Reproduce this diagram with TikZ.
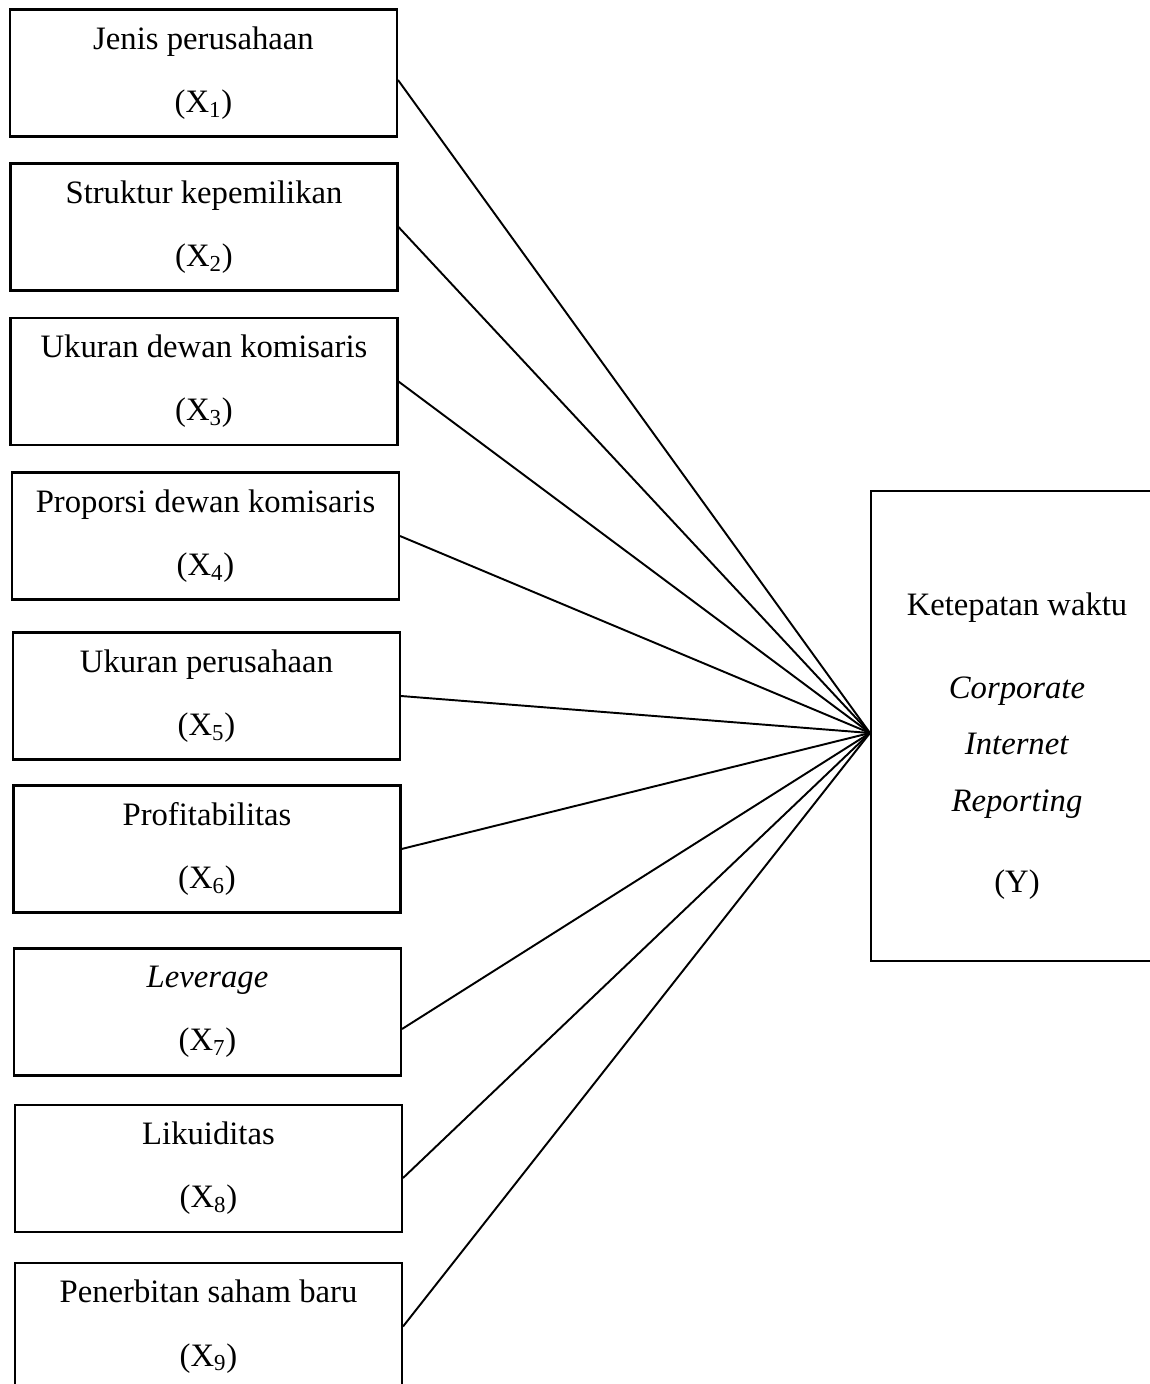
\documentclass[tikz,border=0pt]{standalone}
\usepackage{fontspec}
\setmainfont{Liberation Serif}
\usepackage{tikz}
\usetikzlibrary{positioning}
\tikzstyle{varbox}=[
        draw,
        rectangle,
        line width=1.2pt,
        minimum width=7.74cm,
        minimum height=2.54cm,
        inner sep=0pt,
        align=center,
        font=\fontsize{18.6}{36}\selectfont
]
\tikzstyle{ybox}=[draw,rectangle,line width=1.2pt,minimum width=5.96cm,minimum height=9.4cm,inner sep=0pt]
\tikzstyle{ytext}=[align=center,inner sep=0pt,font=\fontsize{18.6}{32}\selectfont]
\tikzstyle{link}=[line width=1.1pt]

\begin{document}
\begin{tikzpicture}[x=0.02cm,y=-0.02cm]
\useasboundingbox (0,0) rectangle (1150,1384);
\clip (0,0) rectangle (1150,1384);
\node[varbox] (x1) at (203.5,73) {Jenis perusahaan\\(X\textsubscript{1})};
\node[varbox] (x2) at (204,227) {Struktur kepemilikan\\(X\textsubscript{2})};
\node[varbox] (x3) at (204,381.5) {Ukuran dewan komisaris\\(X\textsubscript{3})};
\node[varbox] (x4) at (205.5,536) {Proporsi dewan komisaris\\(X\textsubscript{4})};
\node[varbox] (x5) at (206.5,696) {Ukuran perusahaan\\(X\textsubscript{5})};
\node[varbox] (x6) at (207,849) {Profitabilitas\\(X\textsubscript{6})};
\node[varbox] (x7) at (207.5,1012) {\textit{Leverage}\\(X\textsubscript{7})};
\node[varbox] (x8) at (208.5,1168.5) {Likuiditas\\(X\textsubscript{8})};
\node[varbox] (x9) at (208.5,1326.5) {Penerbitan saham baru\\(X\textsubscript{9})};
\node[ybox] (y) at (1020,726) {};
\node[ytext] (ylab) at (1017,746) {Ketepatan waktu\\[0.54cm]\textit{Corporate}\\\textit{Internet}\\\textit{Reporting}\\[0.5cm](Y)};
%Drawing Edges
\draw[link] ([yshift=-0.14cm]x1.east) -- ([yshift=-0.14cm]y.west);
\draw[link] (x2.east) -- ([yshift=-0.14cm]y.west);
\draw[link] (x3.east) -- ([yshift=-0.14cm]y.west);
\draw[link] (x4.east) -- ([yshift=-0.14cm]y.west);
\draw[link] (x5.east) -- ([yshift=-0.14cm]y.west);
\draw[link] (x6.east) -- ([yshift=-0.14cm]y.west);
\draw[link] ([yshift=-0.34cm]x7.east) -- ([yshift=-0.14cm]y.west);
\draw[link] ([yshift=-0.19cm]x8.east) -- ([yshift=-0.14cm]y.west);
\draw[link] (x9.east) -- ([yshift=-0.14cm]y.west);
\end{tikzpicture}
\end{document}
